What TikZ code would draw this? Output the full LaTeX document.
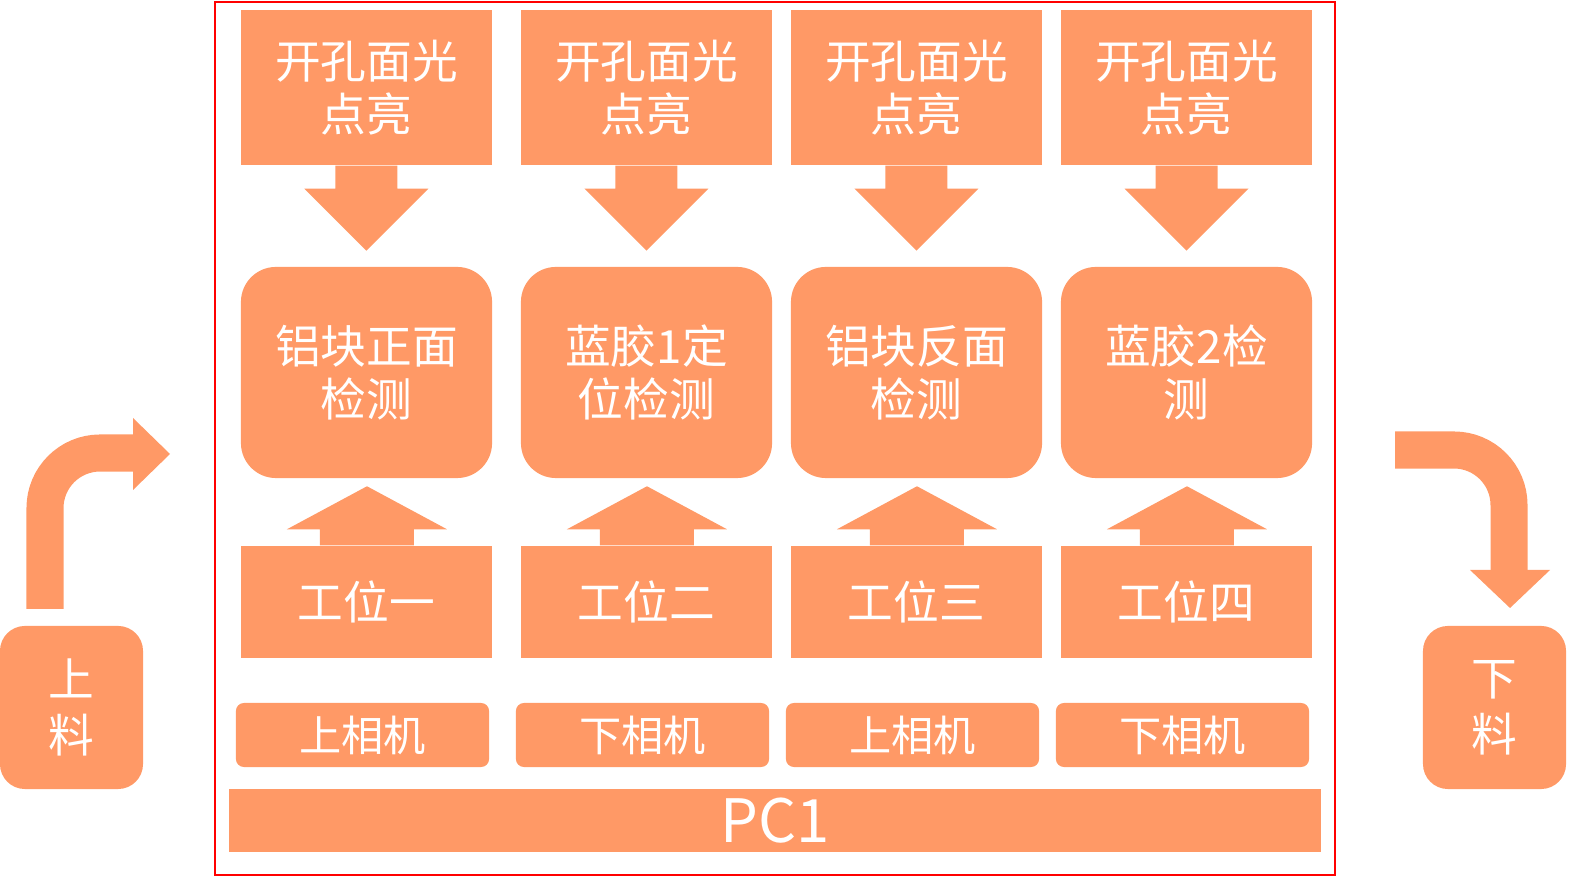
\documentclass[tikz,border=0pt]{standalone}
\usepackage{fontspec}
\setmainfont{Noto Sans CJK SC}
\usetikzlibrary{positioning}
\definecolor{boxorange}{HTML}{FF9966}

\begin{document}
\begin{tikzpicture}[x=0.01cm, y=-0.01cm, >=stealth]

        % --- Styles ---
        \tikzset{
          box/.style={rectangle, fill=boxorange, text=white, align=center, inner sep=0pt,
                      font=\fontsize{13pt}{15pt}\selectfont},
          topbox/.style={box, minimum width=2.51cm, minimum height=1.55cm},
          testbox/.style={box, rounded corners=0.35cm, minimum width=2.51cm, minimum height=2.11cm},
          stationbox/.style={box, minimum width=2.51cm, minimum height=1.12cm},
          cambox/.style={box, rounded corners=0.08cm, minimum width=2.53cm, minimum height=0.64cm,
                      font=\fontsize{12pt}{14pt}\selectfont},
          sidebox/.style={box, rounded corners=0.25cm, minimum width=1.43cm, minimum height=1.63cm,
                      font=\fontsize{13pt}{16pt}\selectfont},
          feedpath/.style={draw=boxorange, line width=0.37cm, rounded corners=0.55cm}
        }
        \useasboundingbox (0,0) rectangle (1576,880);

        % --- Frame ---
        \draw[red, line width=0.8pt] (215,2) rectangle (1335,875);

        % --- Columns ---
        \foreach \i/\cx/\test/\station/\cam in {%
            1/366.5/{铝块正面\\检测}/工位一/上相机,
            2/646.5/{蓝胶1定\\位检测}/工位二/下相机,
            3/916.5/{铝块反面\\检测}/工位三/上相机,
            4/1186.5/{蓝胶2检\\测}/工位四/下相机} {
          \node[topbox] (light\i) at (\cx,87.5) {开孔面光\\点亮};
          \node[testbox] (test\i) at (\cx,372.5) {\test};
          \node[stationbox] (station\i) at (\cx,602) {\station};
          \node[cambox] (cam\i) at (\cx-4,735) {\cam};
          % down arrow
          \fill[boxorange] ([xshift=-0.31cm]light\i.south) -- ++(0,23) -- ++(-31,0)
            -- ++(62,62) -- ++(62,-62) -- ++(-31,0) -- ++(0,-23) -- cycle;
          % up arrow
          \fill[boxorange] ([xshift=-0.465cm]station\i.north) -- ++(0,-16) -- ++(-33,0)
            -- ++(80,-43) -- ++(80,43) -- ++(-33,0) -- ++(0,16) -- cycle;
        }

        % --- PC ---
        \node[box, minimum width=10.92cm, minimum height=0.63cm,
              font=\fontsize{17pt}{19pt}\selectfont] (pc) at (775,820.5) {PC1};

        % --- Loading ---
        \node[sidebox] (load) at (71.5,707.5) {上\\料};
        \node[sidebox] (unload) at (1494.5,707.5) {下\\料};
        \draw[feedpath] (45,609) -- (45,453) -- (135,453);
        \fill[boxorange] (133,418) -- (170,454) -- (133,490) -- cycle;
        \draw[feedpath] (1395,450) -- (1509,450) -- (1509,572);
        \fill[boxorange] (1470,570) -- (1550,570) -- (1510,608) -- cycle;
\end{tikzpicture}
\end{document}
